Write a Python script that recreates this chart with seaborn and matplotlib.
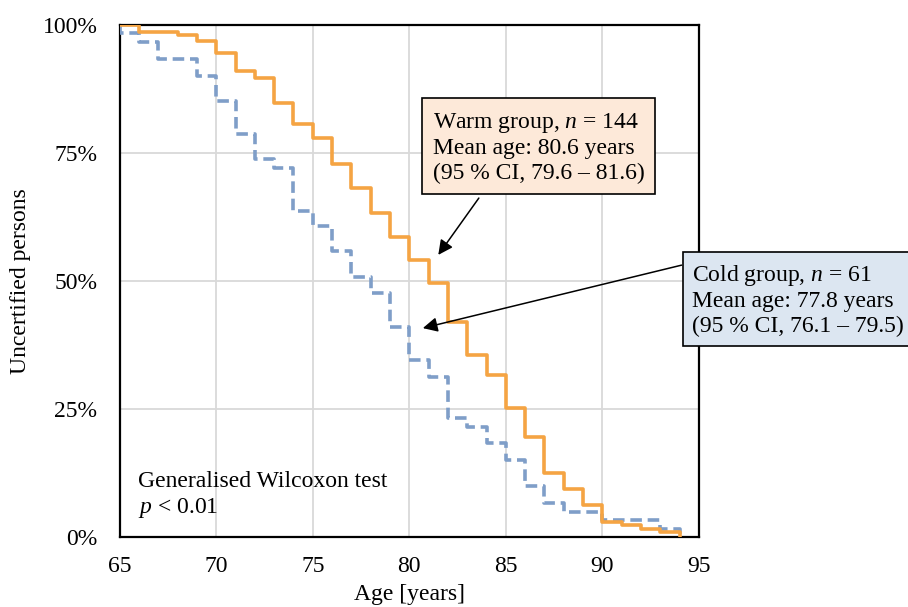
import matplotlib
matplotlib.use("Agg")
import matplotlib.pyplot as plt
import seaborn as sns
import pandas as pd
from matplotlib.ticker import FuncFormatter

# Data (Kaplan-Meier style step curves)
warm_age = [65, 66, 68, 69, 70, 71, 72, 73, 74, 75, 76, 77, 78, 79, 80, 81, 82, 83,
            84, 85, 86, 87, 88, 89, 90, 91, 92, 93, 94]
warm_pct = [100, 98.7, 98.0, 96.9, 94.5, 91.1, 89.7, 84.7, 80.7, 77.9, 72.9, 68.1,
            63.2, 58.5, 54.2, 49.6, 41.9, 35.5, 31.6, 25.1, 19.6, 12.6, 9.3, 6.3,
            3.0, 2.3, 1.6, 0.9, 0]
cold_age = [65, 65, 66, 67, 69, 70, 71, 72, 73, 74, 75, 76, 77, 78, 79, 80, 81, 82,
            83, 84, 85, 86, 87, 88, 90, 93, 94]
cold_pct = [100, 98.4, 96.7, 93.4, 90.0, 85.2, 78.7, 73.8, 72.1, 63.7, 60.8, 55.9,
            50.8, 47.6, 41.1, 34.6, 31.3, 23.2, 21.5, 18.3, 15.0, 10.0, 6.7, 4.9,
            3.3, 1.6, 0]
x_ticks = [65, 70, 75, 80, 85, 90, 95]
y_ticks = [0, 25, 50, 75, 100]

warm_df = pd.DataFrame({"age": warm_age, "pct": warm_pct})
cold_df = pd.DataFrame({"age": cold_age, "pct": cold_pct})

sns.set_style("white")
plt.rcParams["font.family"] = ["Liberation Serif", "DejaVu Serif"]
plt.rcParams["mathtext.fontset"] = "custom"
plt.rcParams["mathtext.rm"] = "Liberation Serif"
plt.rcParams["mathtext.it"] = "Liberation Serif:italic"
for k in ["text.color", "axes.labelcolor", "xtick.color", "ytick.color"]:
    plt.rcParams[k] = "black"

FS = 17
fig = plt.figure(figsize=(9.08, 6.07), dpi=100)
ax = fig.add_axes([0.1318, 0.1153, 0.6380, 0.8435])

ORANGE = "#F5A443"
BLUE = "#7F9EC8"

sns.lineplot(data=cold_df, x="age", y="pct", ax=ax, estimator=None, sort=False,
             drawstyle="steps-post", color=BLUE, linewidth=2.6,
             linestyle=(0, (3.2, 1.6)), zorder=3)
sns.lineplot(data=warm_df, x="age", y="pct", ax=ax, estimator=None, sort=False,
             drawstyle="steps-post", color=ORANGE, linewidth=2.6, zorder=4)

ax.set_xlim(65, 95)
ax.set_ylim(0, 100)
ax.set_xticks(x_ticks)
ax.set_yticks(y_ticks)
ax.yaxis.set_major_formatter(FuncFormatter(lambda v, p: f"{int(v)}%"))
ax.grid(True, color="#D9D9D9", linewidth=1.3)
ax.set_axisbelow(True)
for s in ax.spines.values():
    s.set_color("black")
    s.set_linewidth(1.6)
ax.tick_params(axis="y", length=0, labelsize=FS, pad=16)
ax.tick_params(axis="x", length=0, labelsize=FS, pad=14)
ax.set_xlabel("Age [years]", fontsize=FS, labelpad=5)
ax.set_ylabel("Uncertified persons", fontsize=FS, labelpad=8)

# Annotation boxes
ax.text(81.23, 76.1, "Warm group, $n$ = 144\nMean age: 80.6 years\n(95 % CI, 79.6 – 81.6)",
        fontsize=FS, ha="left", va="center", linespacing=1.2, zorder=6,
        bbox=dict(boxstyle="square,pad=0.45", facecolor="#FDE9D9", edgecolor="black",
                  linewidth=1.2))
ax.text(94.65, 46.3, "Cold group, $n$ = 61\nMean age: 77.8 years\n(95 % CI, 76.1 – 79.5)",
        fontsize=FS, ha="left", va="center", linespacing=1.2, zorder=6, clip_on=False,
        bbox=dict(boxstyle="square,pad=0.38", facecolor="#DCE6F1", edgecolor="black",
                  linewidth=1.2))

arrow = dict(arrowstyle="-|>", color="black", lw=1.1, mutation_scale=22,
             shrinkA=0, shrinkB=0)
ax.annotate("", xy=(81.5, 55.1), xytext=(83.6, 66.2), arrowprops=arrow,
            annotation_clip=False, zorder=7)
ax.annotate("", xy=(80.7, 40.8), xytext=(94.1, 53.1), arrowprops=arrow,
            annotation_clip=False, zorder=7)

ax.text(65.95, 8.1, "Generalised Wilcoxon test\n$p$ < 0.01", fontsize=FS,
        ha="left", va="center", linespacing=1.25, zorder=6)

fig.savefig("out.png", dpi=100)
